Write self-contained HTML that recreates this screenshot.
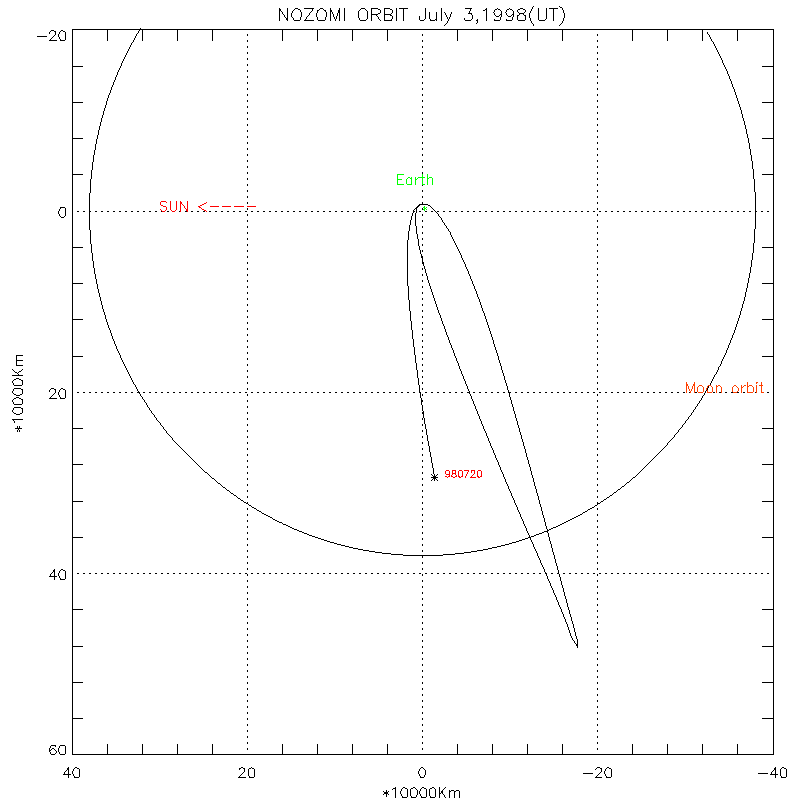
<!DOCTYPE html>
<html lang="en"><head><meta charset="utf-8"><title>NOZOMI ORBIT July 3,1998(UT)</title>
<style>
html,body{margin:0;padding:0;background:#fff;}
body{width:800px;height:800px;overflow:hidden;font-family:"Liberation Sans",sans-serif;}
svg{display:block;}
.k{fill:none;stroke:#000;stroke-width:1;}
.c,.t{fill:none;stroke-width:1;stroke-linecap:square;stroke-linejoin:bevel;}
.c{stroke:#000;}
</style></head>
<body>
<svg width="800" height="800" viewBox="0 0 800 800" shape-rendering="crispEdges" role="img" aria-label="NOZOMI ORBIT July 3,1998(UT)">
<rect width="800" height="800" fill="#fff"/>
<path class="k" stroke-dasharray="2 4" d="M77 211.5H773M77 392.5H773M77 573.5H773M247.5 34V754M422.5 34V754M597.5 34V754"/>
<g aria-label="Moon orbit circle"><path class="c" d="M707.5 32.5v1l2 2v1l1 1v1l1 1v1l2 2v1l1 1v1l1 1v1l1 1v1l1 1v1l1 1v1l1 1v1l1 1v1l1 1v1l1 1v2l1 1v1l1 1v1l1 1v1l1 1v1l1 1v2l1 1v1l1 1v2l1 1v1l1 1v2l1 1v2l1 1v1l1 1v2l1 1v2l1 1v2l1 1v2l1 1v2l1 1v2l1 1v2l1 1v3l1 1v3l1 1v2l1 1v3l1 1v3l1 1v4l1 1v3l1 1v4l1 1v5l1 1v5l1 1v5l1 1v7l1 1v9l1 1v12l1 1v36l-1 1v13l-1 1v9l-1 1v6l-1 1v6l-1 1v5l-1 1v4l-1 1v4l-1 1v4l-1 1v3l-1 1v4l-1 1v3l-1 1v2l-1 1v3l-1 1v2l-1 1v3l-1 1v2l-1 1v2l-1 1v2l-1 1v2l-1 1v2l-1 1v2l-1 1v1l-1 1v2l-1 1v1l-1 1v2l-1 1v1l-1 1v2l-1 1v1l-1 1v2l-1 1v1l-1 1v1l-1 1v1l-1 1v1l-1 1v2l-1 1v1l-2 2v2l-1 1v1l-1 1v1l-2 2v1l-1 1v1l-1 1v1l-1 1v1l-1 1v1l-2 2v1l-1 1v1l-2 2v1l-1 1v1l-2 2v1l-1 1v1l-2 2v1l-2 2v1l-2 2v1l-2 2v1l-2 2v1l-3 3v1l-3 3v1l-3 3v1l-4 4v1l-4 4v1l-7 7v1l-33 33h-1l-5 5h-1l-4 4h-1l-3 3h-1l-3 3h-1l-3 3h-1l-2 2h-1l-2 2h-1l-2 2h-1l-2 2h-1l-2 2h-1l-2 2h-1l-1 1h-1l-1 1h-1l-2 2h-1l-1 1h-1l-2 2h-1l-1 1h-1l-1 1h-1l-1 1h-1l-1 1h-1l-1 1h-1l-1 1h-1l-1 1h-1l-1 1h-1l-1 1h-1l-1 1h-1l-1 1h-1l-1 1h-1l-1 1h-2l-1 1h-1l-1 1h-1l-1 1h-1l-1 1h-2l-1 1h-1l-1 1h-2l-1 1h-2l-1 1h-1l-1 1h-2l-1 1h-2l-1 1h-2l-1 1h-2l-1 1h-2l-1 1h-2l-1 1h-3l-1 1h-2l-1 1h-3l-1 1h-3l-1 1h-3l-1 1h-4l-1 1h-3l-1 1h-4l-1 1h-5l-1 1h-5l-1 1h-6l-1 1h-8l-1 1h-11l-1 1h-39l-1 -1h-11l-1 -1h-8l-1 -1h-6l-1 -1h-5l-1 -1h-5l-1 -1h-4l-1 -1h-4l-1 -1h-3l-1 -1h-3l-1 -1h-3l-1 -1h-3l-1 -1h-2l-1 -1h-3l-1 -1h-2l-1 -1h-2l-1 -1h-2l-1 -1h-2l-1 -1h-2l-1 -1h-2l-1 -1h-2l-1 -1h-1l-1 -1h-2l-1 -1h-1l-1 -1h-2l-1 -1h-1l-1 -1h-2l-1 -1h-1l-1 -1h-1l-1 -1h-1l-1 -1h-1l-1 -1h-2l-2 -2h-2l-1 -1h-1l-1 -1h-1l-1 -1h-1l-2 -2h-1l-1 -1h-1l-1 -1h-1l-1 -1h-1l-1 -1h-1l-2 -2h-1l-1 -1h-1l-2 -2h-1l-1 -1h-1l-2 -2h-1l-2 -2h-1l-1 -1h-1l-2 -2h-1l-2 -2h-1l-3 -3h-1l-2 -2h-1l-3 -3h-1l-3 -3h-1l-4 -4h-1l-5 -5h-1l-6 -6h-1l-33 -33v-1l-6 -6v-1l-3 -3v-1l-3 -3v-1l-4 -4v-1l-2 -2v-1l-3 -3v-1l-2 -2v-1l-2 -2v-1l-1 -1v-1l-2 -2v-1l-2 -2v-1l-2 -2v-1l-1 -1v-1l-2 -2v-1l-1 -1v-1l-1 -1v-1l-2 -2v-1l-1 -1v-1l-1 -1v-1l-1 -1v-1l-1 -1v-1l-1 -1v-1l-1 -1v-1l-1 -1v-1l-1 -1v-1l-1 -1v-1l-1 -1v-1l-1 -1v-1l-1 -1v-1l-1 -1v-2l-1 -1v-1l-1 -1v-1l-1 -1v-1l-1 -1v-2l-1 -1v-1l-1 -1v-2l-1 -1v-1l-1 -1v-2l-1 -1v-2l-1 -1v-2l-1 -1v-1l-1 -1v-2l-1 -1v-2l-1 -1v-2l-1 -1v-3l-1 -1v-2l-1 -1v-2l-1 -1v-3l-1 -1v-3l-1 -1v-3l-1 -1v-3l-1 -1v-3l-1 -1v-4l-1 -1v-4l-1 -1v-4l-1 -1v-5l-1 -1v-6l-1 -1v-7l-1 -1v-8l-1 -1v-13l-1 -1v-36l1 -1v-13l1 -1v-8l1 -1v-7l1 -1v-6l1 -1v-4l1 -1v-5l1 -1v-4l1 -1v-3l1 -1v-4l1 -1v-3l1 -1v-3l1 -1v-3l1 -1v-2l1 -1v-3l1 -1v-2l1 -1v-2l1 -1v-3l1 -1v-2l1 -1v-2l1 -1v-1l1 -1v-2l1 -1v-2l1 -1v-1l1 -1v-2l1 -1v-1l1 -1v-2l1 -1v-1l1 -1v-2l1 -1v-1l1 -1v-1l1 -1v-1l1 -1v-2l1 -1v-1l1 -1v-1l1 -1v-1l1 -1v-1l1 -1v-1l1 -1v-1l1 -1v-1l1 -1v-1l1 -1v-1l1 -1v-1l2 -2v-1l1 -1v-1l1 -1v-1l1 -1v-1l2 -2v-1l1 -1v-1l1 -1"/></g>
<g aria-label="NOZOMI trajectory outbound"><path class="c" d="M420.5 204.5l-4 4v4l-1 1v12l1 1v7l1 1v4l1 1v6l1 1v3l1 1v3l1 1v3l1 1v3l1 1v3l1 1v2l1 1v3l1 1v2l1 1v3l1 1v2l1 1v2l1 1v2l1 1v2l1 1v2l1 1v2l1 1v2l1 1v2l1 1v2l1 1v2l1 1v2l1 1v1l1 1v2l1 1v2l1 1v2l1 1v1l1 1v2l1 1v2l1 1v2l1 1v1l1 1v2l1 1v2l1 1v1l1 1v2l1 1v1l1 1v2l1 1v2l1 1v1l1 1v2l1 1v1l1 1v2l1 1v2l1 1v1l1 1v2l1 1v1l1 1v2l1 1v1l1 1v2l1 1v1l1 1v2l1 1v1l1 1v2l1 1v1l1 1v2l1 1v1l1 1v2l1 1v1l1 1v2l1 1v1l1 1v2l1 1v1l1 1v2l1 1v1l1 1v2l1 1v1l1 1v2l1 1v1l1 1v1l1 1v2l1 1v1l1 1v2l1 1v1l1 1v2l1 1v1l1 1v1l1 1v2l1 1v1l1 1v2l1 1v1l1 1v1l1 1v2l1 1v1l1 1v2l1 1v1l1 1v1l1 1v2l1 1v1l1 1v2l1 1v1l1 1v1l1 1v2l1 1v1l1 1v1l1 1v2l1 1v1l1 1v1l1 1v2l1 1v1l1 1v1l1 1v2l1 1v1l1 1v1l1 1v2l1 1v1l1 1v1l1 1v2l1 1v1l1 1v1l1 1v2l1 1v1l1 1v1l1 1v1l1 1v2l1 1v1l1 1v1l1 1v2l1 1v1l1 1v1l1 1v1l1 1v2l1 1v1l1 1v1l1 1v2l1 1v1l1 1v1l1 1v1l1 1v2l1 1v1l1 1v1l1 1v2l1 1v1l1 1v1l1 1v2l1 1v1l1 1v1l1 1v2l1 1v1l1 1v1l1 1v2l1 1v1l1 1v2l1 1v1l1 1v1l1 1v2l1 1v1l1 1v2l1 1v1l1 1v2l1 1v1l1 1v2l1 1v2l1 1v2l1 1v2l1 1v1l1 1v1l2 2v1l2 2v1l1 1v1"/></g>
<g aria-label="NOZOMI trajectory return"><path class="c" d="M577.5 647.5v-8l-1 -1v-2l-1 -1v-3l-1 -1v-3l-1 -1v-3l-1 -1v-2l-1 -1v-3l-1 -1v-2l-1 -1v-3l-1 -1v-2l-1 -1v-3l-1 -1v-3l-1 -1v-2l-1 -1v-3l-1 -1v-3l-1 -1v-2l-1 -1v-3l-1 -1v-3l-1 -1v-2l-1 -1v-3l-1 -1v-3l-1 -1v-2l-1 -1v-3l-1 -1v-3l-1 -1v-2l-1 -1v-3l-1 -1v-3l-1 -1v-2l-1 -1v-3l-1 -1v-3l-1 -1v-3l-1 -1v-2l-1 -1v-3l-1 -1v-3l-1 -1v-2l-1 -1v-3l-1 -1v-3l-1 -1v-2l-1 -1v-3l-1 -1v-3l-1 -1v-2l-1 -1v-3l-1 -1v-2l-1 -1v-3l-1 -1v-3l-1 -1v-2l-1 -1v-3l-1 -1v-3l-1 -1v-2l-1 -1v-3l-1 -1v-2l-1 -1v-3l-1 -1v-3l-1 -1v-2l-1 -1v-3l-1 -1v-2l-1 -1v-3l-1 -1v-2l-1 -1v-3l-1 -1v-2l-1 -1v-3l-1 -1v-2l-1 -1v-3l-1 -1v-2l-1 -1v-3l-1 -1v-2l-1 -1v-3l-1 -1v-2l-1 -1v-3l-1 -1v-2l-1 -1v-3l-1 -1v-2l-1 -1v-2l-1 -1v-3l-1 -1v-2l-1 -1v-2l-1 -1v-3l-1 -1v-2l-1 -1v-2l-1 -1v-3l-1 -1v-2l-1 -1v-2l-1 -1v-2l-1 -1v-2l-1 -1v-3l-1 -1v-2l-1 -1v-2l-1 -1v-2l-1 -1v-2l-1 -1v-2l-1 -1v-2l-1 -1v-2l-1 -1v-2l-1 -1v-2l-1 -1v-1l-1 -1v-2l-1 -1v-2l-1 -1v-2l-1 -1v-2l-1 -1v-1l-1 -1v-2l-1 -1v-2l-1 -1v-1l-1 -1v-2l-1 -1v-1l-1 -1v-2l-1 -1v-1l-1 -1v-2l-1 -1v-1l-1 -1v-2l-1 -1v-1l-1 -1v-1l-1 -1v-2l-1 -1v-1l-1 -1v-1l-1 -1v-1l-1 -1v-2l-1 -1v-1l-1 -1v-1l-1 -1v-1l-1 -1v-1l-1 -1v-1l-1 -1v-1l-1 -1v-1l-1 -1v-1l-1 -1v-1l-1 -1v-1l-1 -1v-2l-2 -2v-1l-2 -2v-1l-2 -2v-1l-2 -2v-1l-1 -1v-1l-3 -3v-1l-9 -9h-1l-1 -1h-8l-6 6v2l-1 1v2l-1 1v3l-1 1v4l-1 1v5l-1 1v8l-1 1v45l1 1v13l1 1v10l1 1v9l1 1v8l1 1v8l1 1v7l1 1v7l1 1v7l1 1v6l1 1v7l1 1v6l1 1v6l1 1v5l1 1v6l1 1v5l1 1v6l1 1v5l1 1v4l1 1v5l1 1v5l1 1v4l1 1v5l1 1v4l1 1v5l1 1v4l1 1v5l1 1v3"/></g>
<g aria-label="position on 980720"><path class="c" d="M431.5 477.5h6M434.5 474.5v6M431.5 474.5l6 6M431.5 480.5l6 -6"/></g>
<g aria-label="NOZOMI ORBIT July 3,1998(UT)"><title>NOZOMI ORBIT July 3,1998(UT)</title><path class="t" stroke="#000" d="M279.5 8.5v12M279.5 8.5l1 1v1l2 2v1l2 2v1l2 2v1l1 1M287.5 8.5v12M295.5 8.5l-3 3v1l-1 1v3l2 2v1l1 1h5l1 -1v-2l1 -1v-4l-1 -1v-1l-1 -1h-1l-1 -1h-2M313.5 8.5l-1 1v1l-3 3v1l-3 3v1l-2 2M304.5 8.5h9M304.5 20.5h9M320.5 8.5l-2 2h-1v2l-1 1v3l1 1v2l1 1h6l1 -1v-2l1 -1v-4l-1 -1v-1h-1l-2 -2h-2M330.5 8.5v12M330.5 8.5v1l1 1v1l1 1v1l1 1v2l1 1v1l1 1v1M339.5 8.5v1l-1 1v2l-1 1v2l-1 1v2l-1 1v1M339.5 8.5v12M344.5 8.5v12M361.5 8.5l-3 3v6l1 1v1l1 1h5l2 -2v-7l-3 -3h-3M371.5 8.5v12M371.5 8.5h6l1 1h1l1 1v2l-1 1h-1l-1 1h-6M375.5 14.5l3 3v1l2 2M384.5 8.5v12M384.5 8.5h5l1 1h1l1 1v2l-2 2h-1M384.5 14.5h5l1 1h1l1 1v2l-1 1v1h-7M396.5 8.5v12M403.5 8.5v12M399.5 8.5h8M425.5 8.5v10l-2 2h-3l-1 -1v-3M429.5 12.5v6l1 1v1h4l2 -2M436.5 12.5v8M441.5 8.5v12M444.5 12.5l1 1v1l1 1v1l1 1v1l1 1v1M451.5 12.5v1l-1 1v2l-1 1v1l-1 1v1l-1 1v1l-3 3M465.5 8.5h6l-1 1v1l-1 1v1l-1 1h3v1l1 1v3l-2 2h-5l-1 -1v-1M477.5 20.5h-1l1 -1v3l-1 1M483.5 10.5h1l2 -2v12M501.5 12.5v1l-3 3h-2l-2 -2v-1l-1 -1l1 -1v-1l1 -1h1l1 -1l1 1h1l2 2v5l-1 1v2l-1 1h-5v-1M513.5 12.5v1l-3 3h-2l-2 -2v-1l-1 -1l1 -1v-1l1 -1h1l1 -1l1 1h1l2 2v5l-1 1v2l-1 1h-5v-1M520.5 8.5l-1 1h-1l-1 1v1l2 2h3l2 2h1v4l-1 1h-6l-1 -1v-4h1l2 -2h3l2 -2v-1l-1 -1h-1l-1 -1h-2M533.5 6.5l-1 1v1l-1 1v1l-1 1v1l-1 1v4l1 1v2l1 1v1l2 2v1M538.5 8.5v11l1 1h5l2 -2v-10M553.5 8.5v12M549.5 8.5h8M559.5 6.5l1 1h1l1 1v1l1 1v2l1 1v4l-1 1v2l-1 1v1l-3 3"/></g>
<g aria-label="40"><title>40</title><path class="t" stroke="#000" d="M68.5 767.5l-1 1v1l-3 3v1l-1 1h7M68.5 767.5v10M75.5 767.5l-2 2v1l-1 1v2l1 1v1l1 1v1h4l1 -1v-7l-1 -1h-1l-1 -1h-1"/></g>
<g aria-label="20"><title>20</title><path class="t" stroke="#000" d="M239.5 769.5v-1h1l1 -1h1l1 1h1v3l-6 6h7M251.5 767.5l-1 1h-1l-1 1v6l1 1v1h4l1 -1v-7l-1 -1h-1l-1 -1"/></g>
<g aria-label="0"><title>0</title><path class="t" stroke="#000" d="M421.5 767.5l-2 2v1l-1 1v2l1 1v1l1 1v1h3l1 -1v-1l1 -1v-4l-3 -3h-1"/></g>
<g aria-label="-20"><title>-20</title><path class="t" stroke="#000" d="M583.5 773.5h9M595.5 769.5l2 -2h2l1 1h1v3l-6 6h6M607.5 767.5l-2 2v1l-1 1v2l1 1v1l1 1v1h4l1 -1v-7l-1 -1h-1l-1 -1h-1"/></g>
<g aria-label="-40"><title>-40</title><path class="t" stroke="#000" d="M758.5 773.5h9M775.5 767.5l-1 1v1l-3 3v1l-1 1h7M775.5 767.5v10M782.5 767.5l-2 2v6l1 1v1h4l1 -1v-7l-1 -1h-1l-1 -1h-1"/></g>
<g aria-label="-20"><title>-20</title><path class="t" stroke="#000" d="M37.5 36.5h9M49.5 33.5v-1l2 -2h2l1 1h1v3l-6 6h7M61.5 30.5l-2 2v1l-1 1v2l1 1v1l1 1v1h4l1 -1v-7l-1 -1h-1l-1 -1h-1"/></g>
<g aria-label="0"><title>0</title><path class="t" stroke="#000" d="M61.5 207.5h-1v1l-1 1v1l-1 1v2l1 1v1l2 2h2l2 -2v-7l-1 -1h-3"/></g>
<g aria-label="20"><title>20</title><path class="t" stroke="#000" d="M49.5 391.5v-1l2 -2h2l1 1h1v3l-6 6h7M61.5 388.5l-2 2v1l-1 1v2l1 1v1l1 1v1h4l1 -1v-7l-1 -1h-1l-1 -1h-1"/></g>
<g aria-label="40"><title>40</title><path class="t" stroke="#000" d="M54.5 569.5l-1 1v1l-3 3v1l-1 1h7M54.5 569.5v10M61.5 569.5l-2 2v1l-1 1v2l1 1v1l1 1v1h4l1 -1v-7l-1 -1h-1l-1 -1h-1"/></g>
<g aria-label="60"><title>60</title><path class="t" stroke="#000" d="M55.5 746.5v-1h-4l-1 1v1l-1 1v3l1 1v1l1 1h3l2 -2v-1l-3 -3h-1l-3 3M61.5 745.5h-1l-1 1v1l-1 1v3l1 1v1l1 1h4l1 -1v-7l-1 -1h-3"/></g>
<g aria-label="*10000Km"><title>*10000Km</title><path class="t" stroke="#000" d="M386.5 790.5v6M383.5 791.5l1 1h1l1 1h1l1 1M388.5 791.5l-1 1h-1l-1 1h-1l-1 1M392.5 789.5l1 -1h1l1 -1v10M403.5 787.5l-2 2v1l-1 1v2l1 1v1l1 1v1h4l1 -1v-7l-1 -1h-1l-1 -1h-1M413.5 787.5l-1 1h-1l-1 1v6l1 1v1h4l1 -1v-1l1 -1v-4l-3 -3h-1M422.5 787.5l-2 2v1l-1 1v2l1 1v1l1 1v1h4l1 -1v-7l-1 -1h-1l-1 -1h-1M432.5 787.5l-1 1h-1l-1 1v6l1 1v1h4l1 -1v-7l-2 -2h-1M439.5 787.5v10M445.5 787.5l-3 3v1l-3 3M441.5 791.5l1 1v1l2 2v1l1 1M449.5 790.5v7M449.5 792.5l2 -2h2l1 1v6M454.5 792.5l2 -2h2l1 1v6"/></g>
<g aria-label="*10000Km"><title>*10000Km</title><path class="t" stroke="#000" d="M15.5 428.5h6M17.5 431.5v-1l1 -1v-1l1 -1v-1M17.5 426.5v1l1 1v1l1 1v1M14.5 422.5v-1l-2 -2h10M12.5 411.5l2 2h1l1 1h3l1 -1h1l1 -1v-4h-1l-1 -1h-6l-1 1v1l-1 1v1M12.5 401.5l1 1v1l1 1h7l1 -1v-4h-1l-1 -1h-1l-1 -1h-2l-1 1h-1l-2 2v1M12.5 392.5l2 2h1l1 1h3l1 -1h1l1 -1v-4h-1l-1 -1h-6l-1 1v1l-1 1v1M12.5 382.5l1 1v1l1 1h7l1 -1v-4h-1l-1 -1h-1l-1 -1h-2l-1 1h-1l-2 2v1M12.5 375.5h10M12.5 369.5l3 3h1l3 3M17.5 373.5l2 -2h1l2 -2M16.5 365.5h6M18.5 365.5h-1l-1 -1v-4h6M18.5 360.5h-1l-1 -1v-4h6"/></g>
<g aria-label="Earth"><title>Earth</title><path class="t" stroke="#00ff00" d="M397.5 174.5v10M397.5 174.5h6M397.5 179.5h4M397.5 184.5h6M411.5 177.5v7M411.5 179.5l-2 -2h-1l-2 2v4l1 1h3l1 -1M415.5 177.5v7M415.5 180.5l3 -3h1M422.5 174.5v10h2M420.5 177.5h4M427.5 174.5v10M427.5 179.5l2 -2h2l1 1v6"/></g>
<g aria-label="*"><title>*</title><path class="t" stroke="#00ff00" d="M424.5 206.5v4M423.5 207.5l1 1h1l1 1M426.5 207.5l-1 1h-1l-1 1"/></g>
<g aria-label="SUN &lt;----"><title>SUN &lt;----</title><path class="t" stroke="#ff0000" d="M166.5 202.5l-1 -1h-4l-1 1v2l1 1h1l1 1h2l1 1v2l-2 2h-2l-2 -2M170.5 201.5v8l2 2h2l2 -2v-8M180.5 201.5v10M180.5 201.5l1 1v1l3 3v1l2 2v1l1 1M187.5 201.5v10M206.5 202.5l-1 1h-1l-1 1h-1l-1 1h-1l-1 1h-1l1 1h1l2 2h1l1 1h1l1 1M210.5 206.5h8M222.5 206.5h8M234.5 206.5h9M247.5 206.5h8"/></g>
<g aria-label="Moon orbit"><title>Moon orbit</title><path class="t" stroke="#ff4000" d="M686.5 382.5v10M686.5 382.5v1l1 1v1l1 1v2l1 1v1l1 1v1M694.5 382.5v1l-1 1v1l-1 1v2l-1 1v1l-1 1v1M694.5 382.5v10M699.5 385.5l-2 2v4l1 1h4l1 -1v-4l-2 -2h-2M708.5 385.5l-1 1v1l-1 1v1l1 1v2h4l1 -1v-4l-2 -2h-2M716.5 385.5v7M716.5 387.5l2 -2h1l2 2v5M734.5 385.5l-2 2v4l1 1h3l2 -2v-2l-3 -3h-1M741.5 385.5v7M741.5 388.5l3 -3h1M747.5 382.5v10M747.5 387.5l2 -2h2l2 2v4l-1 1h-4l-1 -1M756.5 382.5v1l1 -1h-1M756.5 385.5v7M761.5 382.5v10h2M759.5 385.5h3"/></g>
<g aria-label="980720"><title>980720</title><path class="t" stroke="#ff0000" d="M449.5 472.5v1l-1 1h-2l-1 -1v-2l1 -1h2l1 1v5h-1l-1 1l-1 -1h-1M453.5 470.5h-1v2l1 1h2v1l1 1v1h-1l-1 1h-1l-1 -1h-1v-1l1 -1v-1h2l1 -1v-2h-2M459.5 470.5l-1 1v5h1v1h1l1 -1h1v-5l-1 -1h-2M468.5 470.5v1l-1 1v1l-1 1v1l-1 1v1M464.5 470.5h4M471.5 472.5v-2h3v3l-4 4h5M478.5 470.5l-1 1v5h1v1h1l1 -1h1v-5l-1 -1h-2"/></g>
<path class="k" d="M72.5 29.5H773.5V754.5H72.5ZM107.5 29V41M107.5 744V755M142.5 29V41M142.5 744V755M177.5 29V41M177.5 744V755M212.5 29V41M212.5 744V755M282.5 29V41M282.5 744V755M317.5 29V41M317.5 744V755M352.5 29V41M352.5 744V755M387.5 29V41M387.5 744V755M457.5 29V41M457.5 744V755M492.5 29V41M492.5 744V755M527.5 29V41M527.5 744V755M562.5 29V41M562.5 744V755M632.5 29V41M632.5 744V755M667.5 29V41M667.5 744V755M702.5 29V41M702.5 744V755M737.5 29V41M737.5 744V755M72 718.5H83M762 718.5H774M72 682.5H83M762 682.5H774M72 646.5H83M762 646.5H774M72 609.5H83M762 609.5H774M72 537.5H83M762 537.5H774M72 501.5H83M762 501.5H774M72 464.5H83M762 464.5H774M72 428.5H83M762 428.5H774M72 356.5H83M762 356.5H774M72 319.5H83M762 319.5H774M72 283.5H83M762 283.5H774M72 247.5H83M762 247.5H774M72 174.5H83M762 174.5H774M72 138.5H83M762 138.5H774M72 102.5H83M762 102.5H774M72 66.5H83M762 66.5H774"/>
</svg>
</body></html>
